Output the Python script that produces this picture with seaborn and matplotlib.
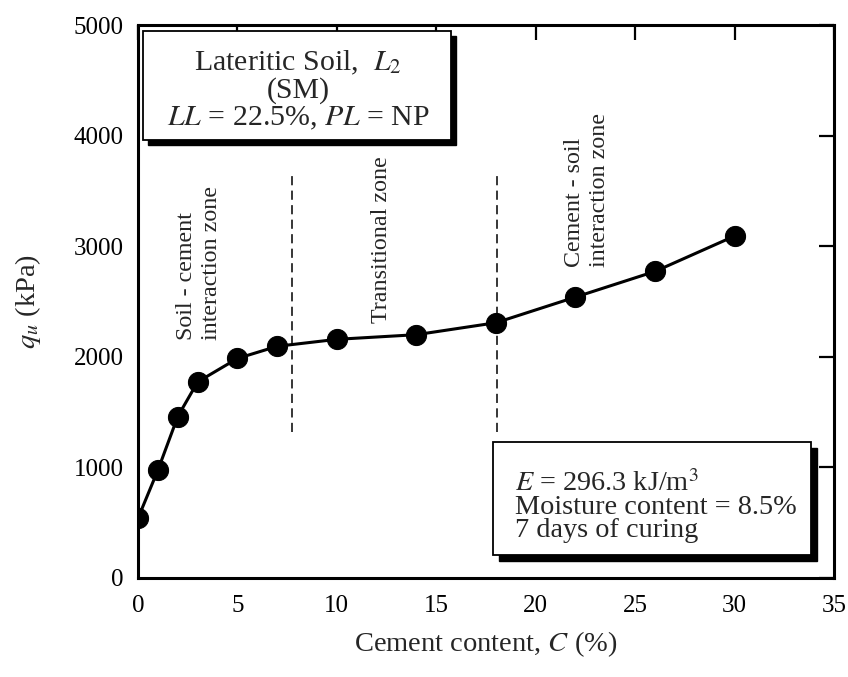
import matplotlib
matplotlib.use("Agg")
import matplotlib.pyplot as plt
import matplotlib.transforms as mtransforms
from matplotlib.patches import Rectangle
import seaborn as sns
import pandas as pd

# ---- data ----
cement_content = [0, 1, 2, 3, 5, 7, 10, 14, 18, 22, 26, 30]
qu_kpa = [540, 975, 1460, 1773, 1985, 2095, 2158, 2200, 2308, 2540, 2772, 3092]
zone_boundaries = [7.75, 18.05]
x_ticks = [0, 5, 10, 15, 20, 25, 30, 35]
y_ticks = [0, 1000, 2000, 3000, 4000, 5000]

sns.set_theme(style="white")
plt.rcParams["font.family"] = ["Liberation Serif", "DejaVu Serif"]
plt.rcParams["mathtext.fontset"] = "stix"

fig = plt.figure(figsize=(8.48, 6.77), dpi=100)
ax = fig.add_axes([138 / 848, 99 / 677, 696 / 848, 553 / 677])

df = pd.DataFrame({"C": cement_content, "qu": qu_kpa})
sns.lineplot(data=df, x="C", y="qu", ax=ax, color="black", linewidth=2.2,
             marker="o", markersize=14.5, markeredgecolor="black",
             markerfacecolor="black", zorder=4)

# zone boundaries (dashed)
for xb in zone_boundaries:
    ax.plot([xb, xb], [1320, 3680], color="black", linewidth=1.1,
            dashes=(6, 3.5), zorder=2)

ax.set_xlim(0, 35)
ax.set_ylim(0, 5000)
ax.set_xticks(x_ticks)
ax.set_yticks(y_ticks)
ax.tick_params(axis="both", which="major", direction="in", length=11, width=1.6,
               labelsize=18, top=True, right=True, colors="black")
ax.tick_params(axis="x", pad=12)
ax.tick_params(axis="y", pad=10.5)
for sp in ax.spines.values():
    sp.set_visible(True)
    sp.set_color("black")
    sp.set_linewidth(2.2)

ax.set_xlabel(r"Cement content, $C$ (%)", fontsize=20.5, labelpad=9)
ax.set_ylabel(r"$q_u$ (kPa)", fontsize=20.5, labelpad=22)

# zone annotations
zt = dict(rotation=90, ha="center", va="bottom", fontsize=17.3, zorder=3)
ax.text(2.45, 2150, "Soil - cement", **zt)
ax.text(3.70, 2150, "interaction zone", **zt)
ax.text(12.25, 2305, "Transitional zone", **zt)
ax.text(21.95, 2815, "Cement - soil", **zt)
ax.text(23.20, 2815, "interaction zone", **zt)

# boxes with shadow
def shadow_box(x0, y0, x1, y1, off=5):
    shadow_tr = ax.transData + mtransforms.ScaledTranslation(off / 100, -off / 100, fig.dpi_scale_trans)
    ax.add_patch(Rectangle((x0, y0), x1 - x0, y1 - y0, transform=shadow_tr,
                           facecolor="black", edgecolor="black", zorder=5, clip_on=False))
    ax.add_patch(Rectangle((x0, y0), x1 - x0, y1 - y0, facecolor="white",
                           edgecolor="black", linewidth=1.3, zorder=6, clip_on=False))

shadow_box(0.25, 3960, 15.75, 4948)
shadow_box(17.86, 208, 33.85, 1230, off=6)

ax.text(8.05, 4410, "Lateritic Soil,  $L_2$\n(SM)\n$LL$ = 22.5%, $PL$ = NP",
        ha="center", va="center", multialignment="center", fontsize=21.5,
        linespacing=1.02, zorder=7)

ax.text(18.95, 645, "$E$ = 296.3 kJ/m$^3$\nMoisture content = 8.5%\n7 days of curing",
        ha="left", va="center", multialignment="left", fontsize=20.3,
        linespacing=0.89, zorder=7)

fig.savefig("out.png", dpi=100)
